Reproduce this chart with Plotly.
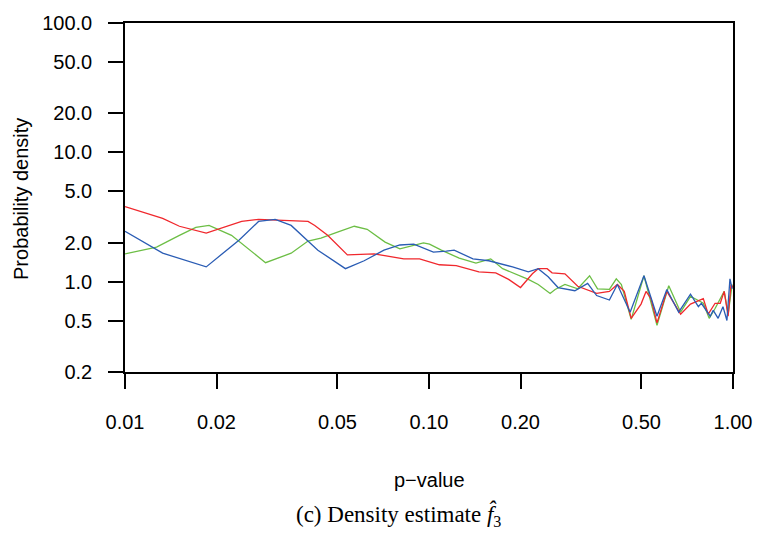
import plotly.graph_objects as go

# ---- data ----
red_p = [0.0100, 0.0133, 0.0151, 0.0185, 0.0242, 0.0275, 0.0400, 0.0421, 0.0464, 0.0539,
         0.0660, 0.0826, 0.0931, 0.1082, 0.1229, 0.1459, 0.1658, 0.1828, 0.2000, 0.2188,
         0.2287, 0.2447, 0.2540, 0.2800, 0.3085, 0.3560, 0.3921, 0.4165, 0.4389, 0.4624,
         0.4983, 0.5175, 0.5373, 0.5623, 0.6058, 0.6726, 0.7247, 0.7985, 0.8292, 0.8730,
         0.9078, 0.9355, 0.9638, 0.9849, 1.0000]
red_d = [3.80, 3.08, 2.68, 2.37, 2.92, 3.03, 2.92, 2.72, 2.28, 1.61,
         1.64, 1.50, 1.50, 1.35, 1.33, 1.19, 1.17, 1.04, 0.90, 1.15,
         1.26, 1.26, 1.17, 1.15, 0.92, 0.81, 0.84, 0.95, 0.84, 0.52,
         0.67, 0.84, 0.74, 0.48, 0.84, 0.56, 0.67, 0.74, 0.56, 0.68,
         0.68, 0.84, 0.54, 0.95, 0.90]

blue_p = [0.0100, 0.0133, 0.0185, 0.0237, 0.0275, 0.0312, 0.0352, 0.0431, 0.0531, 0.0612,
          0.0711, 0.0802, 0.0891, 0.1034, 0.1140, 0.1210, 0.1395, 0.1573, 0.1883, 0.2122,
          0.2287, 0.2466, 0.2657, 0.3019, 0.3326, 0.3560, 0.3921, 0.4165, 0.4588, 0.5094,
          0.5623, 0.6058, 0.6627, 0.7247, 0.7693, 0.7869, 0.8414, 0.8610, 0.8935, 0.9268,
          0.9550, 0.9772, 0.9934]
blue_d = [2.45, 1.66, 1.30, 2.09, 2.92, 3.03, 2.72, 1.75, 1.26, 1.45,
          1.75, 1.92, 1.95, 1.69, 1.72, 1.75, 1.50, 1.45, 1.30, 1.19,
          1.26, 1.09, 0.90, 0.85, 0.97, 0.78, 0.72, 0.95, 0.58, 1.11,
          0.54, 0.87, 0.58, 0.80, 0.64, 0.68, 0.54, 0.60, 0.52, 0.64,
          0.50, 1.05, 0.88]

green_p = [0.0100, 0.0127, 0.0151, 0.0171, 0.0189, 0.0224, 0.0290, 0.0352, 0.0400, 0.0441,
           0.0500, 0.0568, 0.0626, 0.0717, 0.0802, 0.0959, 0.1004, 0.1098, 0.1257, 0.1427,
           0.1596, 0.1747, 0.2122, 0.2287, 0.2503, 0.2599, 0.2800, 0.3085, 0.3375, 0.3585,
           0.3921, 0.4131, 0.4294, 0.4624, 0.5094, 0.5623, 0.6147, 0.6726, 0.7247, 0.7985,
           0.8350, 0.8730, 0.9355, 0.9638, 0.9934]
green_d = [1.64, 1.85, 2.28, 2.63, 2.72, 2.28, 1.40, 1.66, 2.06, 2.17,
           2.41, 2.68, 2.54, 2.02, 1.79, 1.99, 1.95, 1.75, 1.52, 1.39,
           1.50, 1.26, 1.04, 0.95, 0.81, 0.87, 0.95, 0.88, 1.11, 0.88,
           0.87, 1.05, 0.95, 0.51, 1.11, 0.46, 0.93, 0.58, 0.77, 0.68,
           0.52, 0.62, 0.84, 0.56, 0.95]

x_ticks = [0.01, 0.02, 0.05, 0.10, 0.20, 0.50, 1.00]
x_ticktext = ["0.01", "0.02", "0.05", "0.10", "0.20", "0.50", "1.00"]
y_ticks = [0.2, 0.5, 1, 2, 5, 10, 20, 50, 100]
y_ticktext = ["0.2", "0.5", "1.0", "2.0", "5.0", "10.0", "20.0", "50.0", "100.0"]

SANS = "Liberation Sans, Arial, Helvetica, sans-serif"
SERIF = "Liberation Serif, Times New Roman, serif"

fig = go.Figure()
for xs, ys, col in [(green_p, green_d, "#6CBE45"),
                    (red_p, red_d, "#F0282D"),
                    (blue_p, blue_d, "#2A5CB4")]:
    fig.add_trace(go.Scatter(x=xs, y=ys, mode="lines",
                             line=dict(color=col, width=1.3), showlegend=False))

axis_common = dict(showline=True, linecolor="black", linewidth=1.5, mirror=True,
                   ticks="outside", ticklen=15, tickwidth=1.5, tickcolor="black",
                   showgrid=False, zeroline=False,
                   tickfont=dict(family=SANS, size=20, color="black"))

fig.update_xaxes(type="log", range=[-2, 0], tickvals=x_ticks, ticktext=x_ticktext,
                 ticklabelstandoff=16, **axis_common)
fig.update_yaxes(type="log", range=[-0.69897, 2], tickvals=y_ticks, ticktext=y_ticktext,
                 ticklabelstandoff=12, **axis_common)

fig.update_layout(
    width=764, height=536,
    margin=dict(l=125, r=24, t=18, b=164),
    paper_bgcolor="white", plot_bgcolor="white",
    annotations=[
        dict(text="p\u2212value", xref="paper", yref="paper", x=0.5, y=-0.31,
             xanchor="center", yanchor="middle", showarrow=False,
             font=dict(family=SANS, size=20, color="black")),
        dict(text="Probability density", xref="paper", yref="paper", x=-0.172, y=0.497,
             xanchor="center", yanchor="middle", showarrow=False, textangle=-90,
             font=dict(family=SANS, size=20, color="black")),
        dict(text="(c) Density estimate <i>f\u0302</i><sub>3</sub>", xref="paper", yref="paper",
             x=0.45, y=-0.41, xanchor="center", yanchor="middle", showarrow=False,
             font=dict(family=SERIF, size=23, color="black")),
    ],
)

fig.write_html("out.html")
